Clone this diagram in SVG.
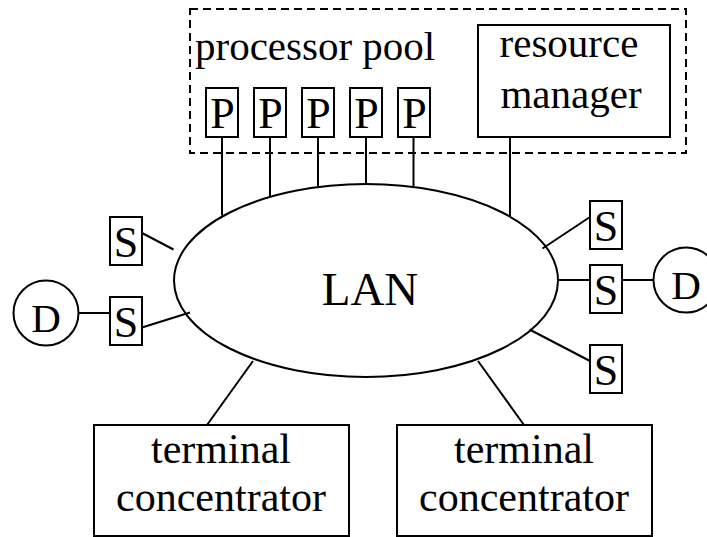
<svg xmlns="http://www.w3.org/2000/svg" width="707" height="537" viewBox="0 0 707 537">
<style>
.box{fill:#fff;stroke:#000;stroke-width:2}
.ln{stroke:#000;stroke-width:2;fill:none}
.t{font-family:"Liberation Serif","Times New Roman",serif;fill:#000}
.big{font-size:44px;text-anchor:middle}
.lab{font-size:41px}
.tc{font-size:42px;text-anchor:middle}
</style>
<rect width="707" height="537" fill="#fff"/>
<g id="connectors">
<line class="ln" x1="222" y1="137" x2="222" y2="215.5"/>
<line class="ln" x1="270" y1="137" x2="270" y2="196"/>
<line class="ln" x1="318" y1="137" x2="318" y2="186"/>
<line class="ln" x1="366" y1="137" x2="366" y2="184"/>
<line class="ln" x1="413.5" y1="137" x2="413.5" y2="187"/>
<line class="ln" x1="510" y1="137" x2="510" y2="216.5"/>
<line class="ln" x1="142" y1="233" x2="173.5" y2="249.5"/>
<line class="ln" x1="142" y1="327.5" x2="190" y2="312.5"/>
<line class="ln" x1="78.5" y1="313" x2="110" y2="313"/>
<line class="ln" x1="590" y1="217" x2="542.5" y2="248.5"/>
<line class="ln" x1="558" y1="280" x2="590" y2="280"/>
<line class="ln" x1="622" y1="280" x2="654" y2="280"/>
<line class="ln" x1="529.5" y1="329.5" x2="590" y2="361"/>
<line class="ln" x1="207" y1="425" x2="253" y2="361"/>
<line class="ln" x1="524" y1="425" x2="478" y2="361"/>
</g>
<g id="pool">
<rect x="190" y="9" width="496" height="144" fill="none" stroke="#000" stroke-width="2" stroke-dasharray="8,5"/>
<text class="t lab" x="195" y="59.5">processor pool</text>
</g>
<g id="P1"><rect class="box" x="206" y="88" width="32" height="49"/><text class="t big" x="222.5" y="128">P</text></g>
<g id="P2"><rect class="box" x="254" y="88" width="32" height="49"/><text class="t big" x="270.5" y="128">P</text></g>
<g id="P3"><rect class="box" x="302" y="88" width="32" height="49"/><text class="t big" x="318.5" y="128">P</text></g>
<g id="P4"><rect class="box" x="350" y="88" width="32" height="49"/><text class="t big" x="366.5" y="128">P</text></g>
<g id="P5"><rect class="box" x="398" y="88" width="32" height="49"/><text class="t big" x="414.5" y="128">P</text></g>
<g id="resource-manager">
<rect class="box" x="478" y="25" width="192" height="112"/>
<text class="t lab" x="569" y="56.5" text-anchor="middle">resource</text>
<text class="t lab" x="571" y="107.5" text-anchor="middle">manager</text>
</g>
<g id="LAN">
<ellipse cx="366" cy="280.5" rx="192" ry="96.5" fill="none" stroke="#000" stroke-width="2"/>
<text class="t" x="370" y="305" font-size="47" text-anchor="middle">LAN</text>
</g>
<g id="S-left-1"><rect class="box" x="110" y="217" width="32" height="48"/><text class="t big" x="126" y="256.5">S</text></g>
<g id="S-left-2"><rect class="box" x="110" y="297" width="32" height="48"/><text class="t big" x="126" y="336.5">S</text></g>
<g id="D-left"><circle class="box" cx="46" cy="313" r="32.5"/><text class="t" x="46" y="331.5" font-size="41" text-anchor="middle">D</text></g>
<g id="S-right-1"><rect class="box" x="590" y="201" width="32" height="48"/><text class="t big" x="606" y="240.5">S</text></g>
<g id="S-right-2"><rect class="box" x="590" y="265" width="32" height="48"/><text class="t big" x="606" y="304.5">S</text></g>
<g id="S-right-3"><rect class="box" x="590" y="345" width="32" height="48"/><text class="t big" x="606" y="384.5">S</text></g>
<g id="D-right"><circle class="box" cx="686" cy="280" r="32.5"/><text class="t" x="686" y="298.5" font-size="41" text-anchor="middle">D</text></g>
<g id="terminal-concentrator-1">
<rect class="box" x="94" y="425" width="255" height="111"/>
<text class="t tc" x="221" y="463">terminal</text>
<text class="t tc" x="221" y="510.5">concentrator</text>
</g>
<g id="terminal-concentrator-2">
<rect class="box" x="397" y="425" width="255" height="111"/>
<text class="t tc" x="524" y="463">terminal</text>
<text class="t tc" x="524" y="510.5">concentrator</text>
</g>
</svg>
